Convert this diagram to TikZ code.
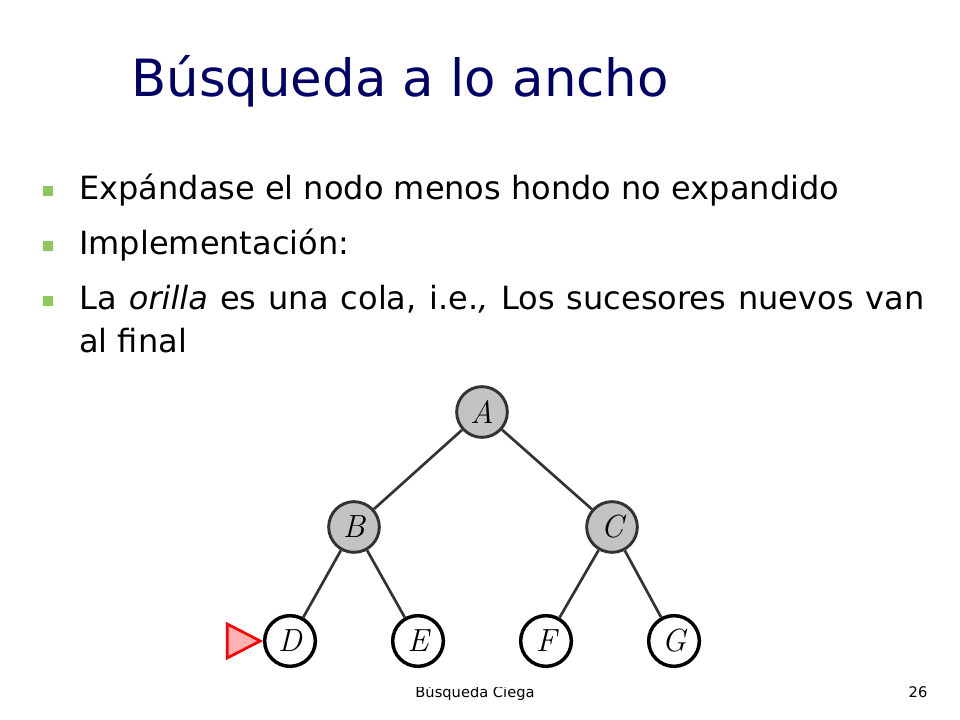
\documentclass[tikz,border=0pt]{standalone}
\usepackage{fontspec}
\setmainfont{DejaVu Sans}
\newfontfamily\treefont{Latin Modern Roman}
\usetikzlibrary{positioning}
\definecolor{titleblue}{RGB}{0,0,102}
\definecolor{bulletgreen}{RGB}{140,200,90}
\definecolor{nodegray}{RGB}{195,195,195}
\begin{document}
\begin{tikzpicture}[x=0.75pt,y=-0.75pt,line width=2pt]
	\tikzset{node in/.style={circle, draw=black!80, fill=nodegray, line width=2.2pt,
			minimum size=38pt, inner sep=0pt, font=\fontsize{24}{28}\selectfont\treefont\itshape}}
	\tikzset{node out/.style={node in, fill=white, line width=2.6pt, draw=black}}
	\tikzset{bullet/.style={fill=bulletgreen, minimum size=7pt, inner sep=0pt}}
	\tikzset{item/.style={anchor=base west, inner sep=0pt, font=\fontsize{24}{28}\selectfont}}

	\useasboundingbox (0,0) rectangle (960,720);

	% footer
	\node[anchor=base, font=\fontsize{11}{13}\selectfont] (foot) at (475,697) {Búsqueda Ciega};
	\node[anchor=base, font=\fontsize{11}{13}\selectfont] (page) at (918,697) {26};
	\fill[white] (200,380) rectangle (710,687);

	% title and bullets
	\node[anchor=base west, inner sep=0pt, text=titleblue,
		font=\fontsize{38.5}{44}\selectfont] (title) at (130,97) {Búsqueda a lo ancho};
	\foreach \y/\t [count=\k] in {200/{Expándase el nodo menos hondo no expandido},
		255/{Implementación:},
		310/{\makebox[634pt][s]{La \textit{orilla} es una cola, i.e.\textit{,} Los sucesores nuevos van}}} {
		\node[bullet] (b\k) at (48,\y-9) {};
		\node[item] (t\k) at (78,\y) {\t};
	};
	\node[item] (t4) at (78,352) {al final};

	% tree
	\node[node in] (A) at (482,412) {A};
	\node[node in] (B) at (354,527) {B};
	\node[node in] (C) at (612,527) {C};
	\node[node out] (D) at (290,641) {D};
	\node[node out] (E) at (418,641) {E};
	\node[node out] (F) at (546,641) {F};
	\node[node out] (G) at (674,641) {G};
	\foreach \p/\c in {A/B, A/C, B/D, B/E, C/F, C/G} {
		\draw[black!80] (\p) -- (\c);
	};

	% marker
	\coordinate[left=2pt of D] (tip);
	\draw[red, fill=red!30, line width=2pt, line join=miter]
		(tip) -- ++(-33,-17) -- ++(0,34) -- cycle;
\end{tikzpicture}
\end{document}
